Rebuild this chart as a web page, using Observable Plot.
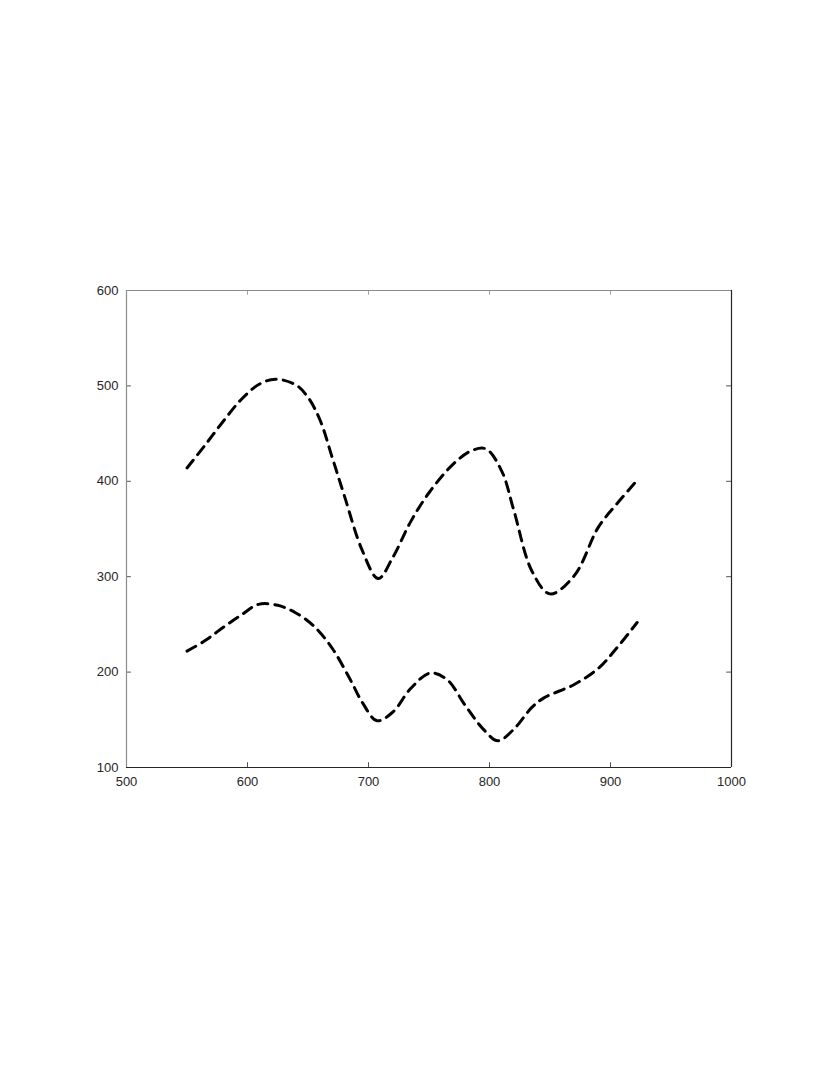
<!DOCTYPE html>
<html><head><meta charset="utf-8">
<script src="https://cdn.jsdelivr.net/npm/d3@7"></script>
<script src="https://cdn.jsdelivr.net/npm/@observablehq/plot@0.6"></script>
<style>body{margin:0;background:#fff}</style>
</head><body><div id="chart"></div>
<script>
const upperX = [550, 565, 580, 595, 610, 623, 640, 650, 660, 670, 680, 695, 708, 720, 735, 750, 770, 785, 797, 810, 820, 835, 850, 870, 890, 905, 922];
const upperY = [414, 438, 463, 486, 502, 507, 501, 488, 464, 425, 385, 327, 298, 320, 358, 388, 418, 432, 434, 411, 370, 306, 282, 301, 352, 376, 401];
const lowerX = [550, 565, 580, 595, 609, 625, 640, 655, 670, 685, 695, 707, 720, 735, 751, 765, 780, 795, 807, 820, 835, 845, 870, 890, 905, 922];
const lowerY = [222, 233, 247, 260, 271, 270, 262, 248, 225, 192, 168, 149, 158, 183, 199, 192, 165, 140, 128, 140, 163, 173, 187, 204, 225, 252];
const xTicks = [500, 600, 700, 800, 900, 1000];
const yTicks = [100, 200, 300, 400, 500, 600];

const upper = upperX.map((x, i) => ({x, y: upperY[i]}));
const lower = lowerX.map((x, i) => ({x, y: lowerY[i]}));
const dark = "#262626";
const light = "#8c8c8c";

const chart = Plot.plot({
  width: 830, height: 1075,
  marginLeft: 126, marginRight: 99, marginTop: 290, marginBottom: 308,
  style: {fontFamily: "Liberation Sans, Arial, sans-serif", fontSize: "13px", color: dark, background: "#fff"},
  x: {domain: [500, 1000], ticks: xTicks, label: null},
  y: {domain: [100, 600], ticks: yTicks, label: null},
  marks: [
    Plot.axisX({ticks: xTicks, tickSize: 0, tickPadding: 9, tickFormat: d => String(d), fontSize: 13, fill: dark, label: null}),
    Plot.axisY({ticks: yTicks, tickSize: 0, tickPadding: 8, tickFormat: d => String(d), fontSize: 13, fill: dark, label: null}),
    Plot.ruleX(xTicks, {x: d => d, y1: 100, y2: 105, stroke: dark, strokeWidth: 0.8}),
    Plot.ruleX(xTicks, {x: d => d, y1: 600, y2: 595, stroke: light, strokeWidth: 0.8}),
    Plot.ruleY(yTicks, {y: d => d, x1: 500, x2: 504, stroke: dark, strokeWidth: 0.8}),
    Plot.ruleY(yTicks, {y: d => d, x1: 1000, x2: 996, stroke: dark, strokeWidth: 0.8}),
    Plot.ruleX([500], {x: d => d, y1: 100, y2: 600, stroke: light, strokeWidth: 1.2}),
    Plot.ruleY([600], {y: d => d, x1: 500, x2: 1000, stroke: light, strokeWidth: 1.2}),
    Plot.ruleX([1000], {x: d => d, y1: 100, y2: 600, stroke: dark, strokeWidth: 1.2}),
    Plot.ruleY([100], {y: d => d, x1: 500, x2: 1000, stroke: dark, strokeWidth: 1.2}),
    Plot.line(upper, {x: "x", y: "y", curve: "catmull-rom", stroke: "black", strokeWidth: 3, strokeDasharray: "10,7"}),
    Plot.line(lower, {x: "x", y: "y", curve: "catmull-rom", stroke: "black", strokeWidth: 3, strokeDasharray: "10,7"})
  ]
});
document.getElementById("chart").appendChild(chart);
</script>
</body></html>
